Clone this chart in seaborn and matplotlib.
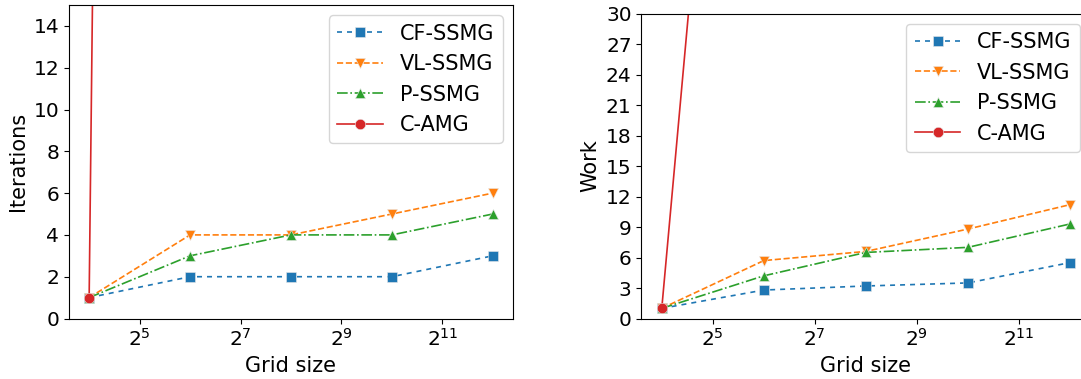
import numpy as np
import matplotlib
matplotlib.use("Agg")
import matplotlib.pyplot as plt
import matplotlib.ticker as mticker
import seaborn as sns

# grid sizes (x axis, log base 2)
grid = [16, 64, 256, 1024, 4096]
grid_camg = [16, 64]  # C-AMG leaves the chart after the 2nd point

# iterations
it_cf = [1, 2, 2, 2, 3]
it_vl = [1, 4, 4, 5, 6]
it_p = [1, 3, 4, 4, 5]
it_camg = [1, 430]

# work
wk_cf = [1.0, 2.8, 3.2, 3.5, 5.5]
wk_vl = [1.0, 5.7, 6.6, 8.8, 11.2]
wk_p = [1.0, 4.2, 6.5, 7.0, 9.3]
wk_camg = [1.0, 112]

labels = ['CF-SSMG', 'VL-SSMG', 'P-SSMG', 'C-AMG']
xticks = [2**5, 2**7, 2**9, 2**11]

pal = sns.color_palette('tab10')
colors = [pal[0], pal[1], pal[2], pal[3]]
markers = ['s', 'v', '^', 'o']
styles = [(0, (3, 3)), '--', '-.', '-']

FONTSIZE = 15
TICKSIZE = 14.5
LW = 1.2
MS = 7.5


def draw_panel(ax, series, xs, YLABEL, YMAX, YTICKS):
    ax.set_xscale('log', base=2)
    for i, y in enumerate(series):
        sns.lineplot(x=xs[i], y=y, ax=ax, color=colors[i], marker=markers[i],
                     linestyle=styles[i], linewidth=LW, markersize=MS,
                     markeredgewidth=0.4, markeredgecolor='#e8e8e8',
                     errorbar=None, label=labels[i], legend=False)
    ax.set_ylim(0, YMAX)
    ax.set_yticks(YTICKS)
    ax.xaxis.set_major_locator(mticker.FixedLocator(xticks))
    ax.xaxis.set_major_formatter(mticker.LogFormatterSciNotation(base=2))
    ax.xaxis.set_minor_locator(mticker.NullLocator())
    ax.set_xlabel('Grid size', fontsize=FONTSIZE)
    ax.set_ylabel(YLABEL, fontsize=FONTSIZE)
    ax.tick_params(labelsize=TICKSIZE)
    ax.legend(loc='upper right', fontsize=FONTSIZE, handlelength=2.2)


fig = plt.figure(figsize=(10.81, 3.79), dpi=100)
ax1 = fig.add_axes([0.0638, 0.1596, 0.4107, 0.8272])
ax2 = fig.add_axes([0.5933, 0.1596, 0.4154, 0.8047])

draw_panel(ax1, [it_cf, it_vl, it_p, it_camg], [grid, grid, grid, grid_camg],
           'Iterations', 15, np.arange(0, 15, 2))
draw_panel(ax2, [wk_cf, wk_vl, wk_p, wk_camg], [grid, grid, grid, grid_camg],
           'Work', 30, np.arange(0, 31, 3))

# both panels: same x range with default 5% margins in log space
for ax in (ax1, ax2):
    ax.set_xlim(2**3.6, 2**12.4)

fig.savefig('out.png', dpi=100)
